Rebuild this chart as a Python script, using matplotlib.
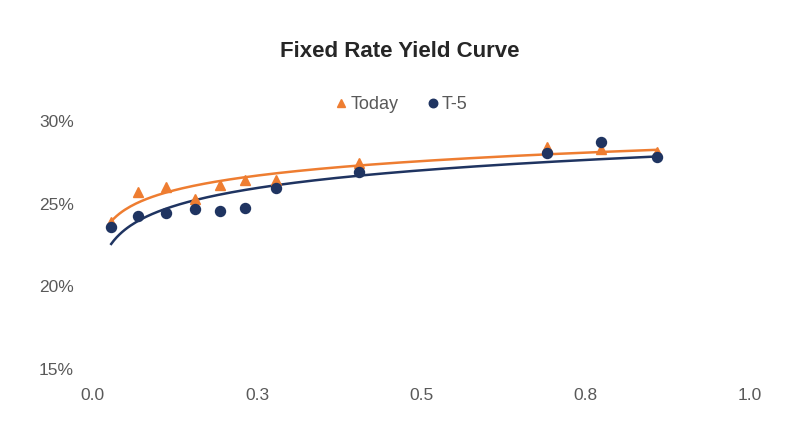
import numpy as np
import matplotlib.pyplot as plt

plt.rcParams['font.family'] = ['Liberation Sans', 'DejaVu Sans']

# maturity (fraction of range) and yields in percent
today_x = [0.028, 0.069, 0.112, 0.155, 0.194, 0.231, 0.279, 0.405, 0.691, 0.774, 0.858]
today_y = [23.9, 25.7, 25.98, 25.31, 26.12, 26.46, 26.46, 27.43, 28.43, 28.33, 28.13]
t5_x = [0.028, 0.069, 0.112, 0.155, 0.194, 0.231, 0.279, 0.405, 0.691, 0.774, 0.858]
t5_y = [23.60, 24.24, 24.41, 24.65, 24.56, 24.75, 25.92, 26.92, 28.07, 28.73, 27.83]

x_ticks = [0.0, 0.25, 0.5, 0.75, 1.0]
y_ticks = [15, 20, 25, 30]

orange = '#EE7D31'
navy = '#1F3461'
grey = '#595959'

fig = plt.figure(figsize=(8, 4.36), dpi=100)
ax = fig.add_axes([0.116, 0.1537, 0.8215, 0.5688])

# log trendlines like the spreadsheet ones
for xs, ys, col in [(today_x, today_y, orange), (t5_x, t5_y, navy)]:
    b, a = np.polyfit(np.log(xs), ys, 1)
    xx = np.linspace(min(xs), max(xs), 200)
    ax.plot(xx, a + b * np.log(xx), color=col, lw=1.8, zorder=2)

ax.plot(today_x, today_y, '^', color=orange, ms=7.5, ls='none', label='Today', zorder=3)
ax.plot(t5_x, t5_y, 'o', color=navy, ms=7.2, ls='none', label='T-5', zorder=4)

ax.set_xlim(0, 1)
ax.set_ylim(15, 30)
ax.set_xticks(x_ticks)
ax.set_xticklabels(['%.1f' % v for v in [0.0, 0.3, 0.5, 0.8, 1.0]])
ax.set_yticks(y_ticks)
ax.set_yticklabels(['%d%%' % v for v in y_ticks])
ax.tick_params(length=0, labelsize=12.5, colors=grey)
ax.tick_params(axis='x', pad=14)
ax.tick_params(axis='y', pad=13.5)
for s in ax.spines.values():
    s.set_visible(False)

fig.text(0.5, 0.881, 'Fixed Rate Yield Curve', ha='center', va='center',
         fontsize=16, fontweight='bold', color='#262626')

fig.legend(loc='center', bbox_to_anchor=(0.5, 0.76), ncol=2, frameon=False,
           fontsize=13, labelcolor=grey, handletextpad=0.0, columnspacing=1.4,
           handlelength=1.0, markerscale=0.85)

fig.savefig('out.png', dpi=100)
